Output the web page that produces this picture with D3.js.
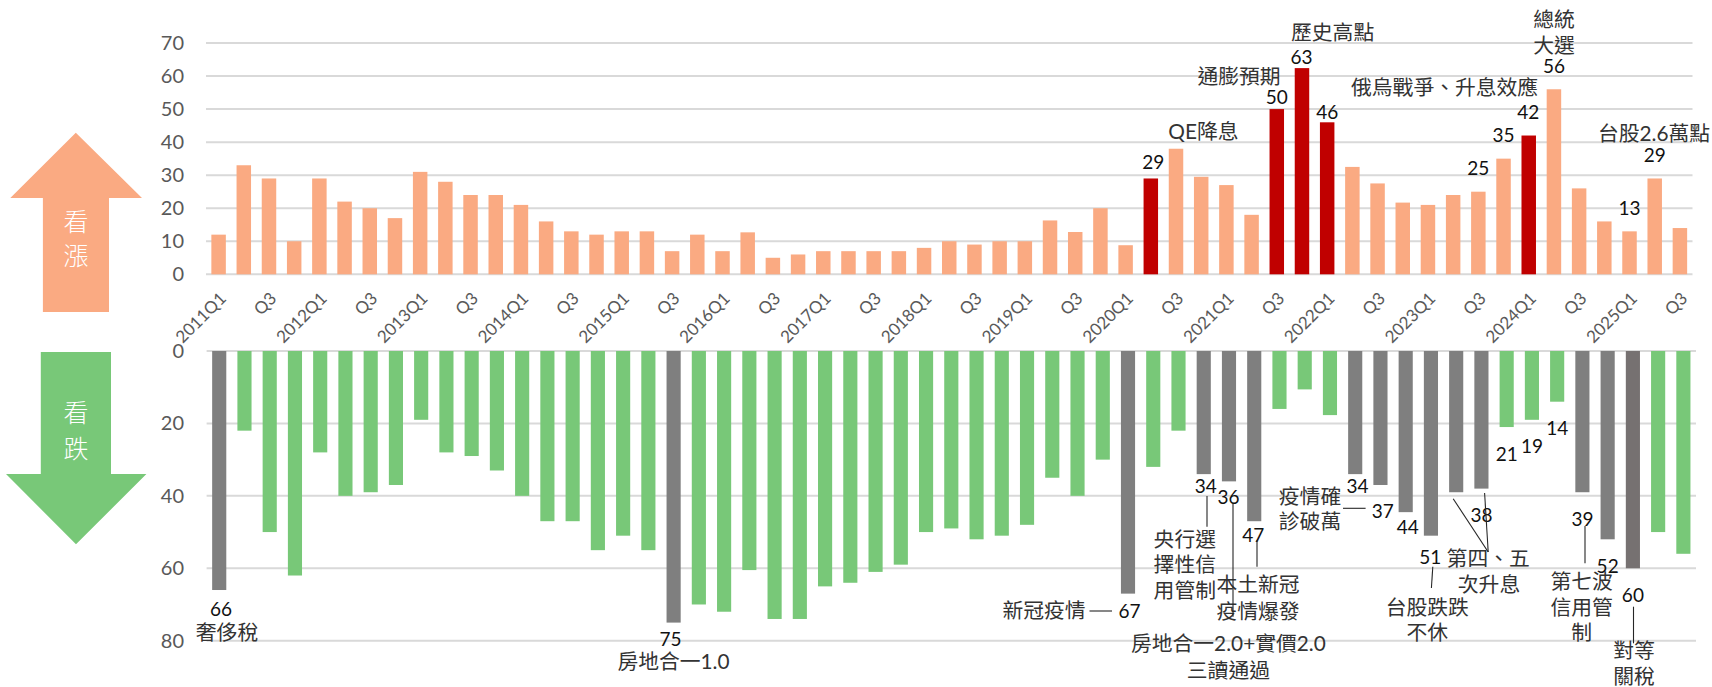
<!DOCTYPE html>
<html><head><meta charset="utf-8">
<script src="https://cdn.jsdelivr.net/npm/d3@7/dist/d3.min.js"></script>
<style>
html,body{margin:0;padding:0;background:#fff}
svg{display:block}
text{font-family:Lato,"Noto Sans CJK TC",sans-serif}
</style></head><body>
<svg id="c" width="1712" height="687"></svg>
<script>
const categories=["2011Q1","2011Q2","2011Q3","2011Q4","2012Q1","2012Q2","2012Q3","2012Q4","2013Q1","2013Q2","2013Q3","2013Q4","2014Q1","2014Q2","2014Q3","2014Q4","2015Q1","2015Q2","2015Q3","2015Q4","2016Q1","2016Q2","2016Q3","2016Q4","2017Q1","2017Q2","2017Q3","2017Q4","2018Q1","2018Q2","2018Q3","2018Q4","2019Q1","2019Q2","2019Q3","2019Q4","2020Q1","2020Q2","2020Q3","2020Q4","2021Q1","2021Q2","2021Q3","2021Q4","2022Q1","2022Q2","2022Q3","2022Q4","2023Q1","2023Q2","2023Q3","2023Q4","2024Q1","2024Q2","2024Q3","2024Q4","2025Q1","2025Q2","2025Q3"];
const bullish=[12,33,29,10,29,22,20,17,31,28,24,24,21,16,13,12,13,13,7,12,7,12.7,5,6,7,7,7,7,8,10,9,10,10,16.3,12.8,20,8.8,29,38,29.5,27,18,50,62.4,46,32.5,27.5,21.7,21,24,25,35,42,56,26,16,13,29,14];
const bearish=[66,22,50,62,28,40,39,37,19,28,29,33,40,47,47,55,51,55,75,70,72,60.5,74,74,65,64,61,59,50,49,52,51,48,35,40,30,67,32,22,34,36,47,16,10.6,17.7,34,37,44.5,51,39,38,21,19,14,39,52,60,50,56];
const bullishHighlight=[37,42,43,44,52];
const bearishHighlight=[0,18,36,39,40,41,45,46,47,48,49,50,54,55];
const bearishDark=[56];
const topTicks=[0,10,20,30,40,50,60,70];
const bottomTicks=[0,20,40,60,80];
const axisLabels=["2011Q1","Q3","2012Q1","Q3","2013Q1","Q3","2014Q1","Q3","2015Q1","Q3","2016Q1","Q3","2017Q1","Q3","2018Q1","Q3","2019Q1","Q3","2020Q1","Q3","2021Q1","Q3","2022Q1","Q3","2023Q1","Q3","2024Q1","Q3","2025Q1","Q3"];
const topValueLabels=[[37,"29"],[42,"50"],[43,"63"],[44,"46"],[50,"25"],[51,"35"],[52,"42"],[53,"56"],[56,"13"],[57,"29"]];
const bottomValueLabels=[[0,"66"],[18,"75"],[36,"67"],[39,"34"],[40,"36"],[41,"47"],[45,"34"],[46,"37"],[47,"44"],[48,"51"],[50,"38"],[51,"21"],[52,"19"],[53,"14"],[54,"39"],[55,"52"],[56,"60"]];
const noteTexts=["QE降息","通膨預期","歷史高點","俄烏戰爭、升息效應","總統","大選","台股2.6萬點","奢侈稅","房地合一1.0","新冠疫情","央行選","擇性信","用管制","本土新冠","疫情爆發","房地合一2.0+實價2.0","三讀通過","疫情確","診破萬","台股跌跌","不休","第四、五","次升息","第七波","信用管","制","對等","關稅"];

// layout (kept apart from the data)
const topOffsets=[[2.5,-17],[0,-12.4],[-.4,-11.4],[0,-10.6],[0,-24.4],[0,-24],[-.4,-23.8],[0,-24],[0,-24],[0,-24.2]];
const bottomOffsets=[[1.8,18.7],[-3,16],[1.6,16.8],[2,11.3],[-.4,15.4],[-1,13.3],[2.4,11.3],[2.2,25.7],[2,14.3],[-.7,20.7],[0,25.4],[0,26.3],[0,25.5],[0,25.6],[0,26],[0,26.5],[0,26.3]];
const notePos=[[1203.4,130],[1239,75],[1332.6,31],[1444.6,86.7],[1554,18],[1554,44.3],[1654,132.7],[227,631.7],[673.5,660],[1044,609],[1184.8,538],[1184.8,563.7],[1184.8,589.3],[1258,583.7],[1258,610],[1228.4,642.7],[1228.4,669],[1310,495],[1310,520.3],[1427.3,606],[1427.3,631.7],[1488.2,557.7],[1489,583],[1581.7,580.7],[1581.7,606.7],[1581.7,631.7],[1634,649.7],[1634,675]];
const leaders=[[1089.5,611,1112,611],[1207,496,1207,526.7],[1233,503.3,1233,616.7],[1257,540,1257,566.7],[1343,508.3,1365.6,508.3],[1432.8,566.7,1431.4,588],[1453.2,498.7,1488.2,552],[1484.6,493,1488.2,552],[1585,526,1585,563.3],[1633.5,606.7,1633.5,643.3]];
const C={up:"#FAAA82",red:"#C00000",down:"#78C878",gray:"#7F7F7F",dark:"#767171",grid:"#D9D9D9",tick:"#595959",note:"#333333"};

const svg=d3.select("#c");
const xTop=d3.scaleBand().domain(d3.range(categories.length)).range([206,1692.5]).paddingInner(.425).paddingOuter(.2125);
const xBot=d3.scaleBand().domain(d3.range(categories.length)).range([206.6,1696]).paddingInner(.44).paddingOuter(.22);
const yTop=d3.scaleLinear().domain([0,70]).range([274.3,43]);
const yBot=d3.scaleLinear().domain([0,80]).range([351,640.7]);

function grid(ticks,y,x0,x1){
  svg.append("g").selectAll("line").data(ticks).join("line")
    .attr("x1",x0).attr("x2",x1).attr("y1",d=>y(d)).attr("y2",d=>y(d))
    .attr("stroke",C.grid).attr("stroke-width",2);
}
grid(topTicks,yTop,206,1692.5);
grid(bottomTicks,yBot,206.6,1696);

function yAxis(y,ticks){
  const g=svg.append("g").attr("transform","translate(184,0)")
    .call(d3.axisLeft(y).tickValues(ticks).tickSize(0).tickPadding(0));
  g.select(".domain").remove();
  g.selectAll("text").attr("font-size",20).attr("fill",C.tick).attr("font-family",'Lato,sans-serif');
}
yAxis(yTop,topTicks); yAxis(yBot,bottomTicks);

svg.append("g").selectAll("rect").data(bullish).join("rect")
  .attr("x",(d,i)=>xTop(i)).attr("width",xTop.bandwidth())
  .attr("y",d=>yTop(d)).attr("height",d=>yTop(0)-yTop(d))
  .attr("fill",(d,i)=>bullishHighlight.includes(i)?C.red:C.up);
svg.append("g").selectAll("rect").data(bearish).join("rect")
  .attr("x",(d,i)=>xBot(i)).attr("width",xBot.bandwidth())
  .attr("y",yBot(0)).attr("height",d=>yBot(d)-yBot(0))
  .attr("fill",(d,i)=>bearishDark.includes(i)?C.dark:bearishHighlight.includes(i)?C.gray:C.down);

// category axis between the two panels
const labelIdx=axisLabels.map((d,i)=>i*2);
const xAxis=svg.append("g").attr("transform","translate(0,295)")
  .call(d3.axisBottom(xTop).tickValues(labelIdx).tickSize(0).tickFormat((d,i)=>axisLabels[i]));
xAxis.select(".domain").remove();
xAxis.selectAll("text").attr("font-size",17).attr("fill",C.tick)
  .attr("text-anchor","end").attr("dy",0).attr("y",0).attr("x",0)
  .attr("dominant-baseline","central")
  .attr("transform","translate(4,0) rotate(-45)");

function valueLabels(list,off,x,val){
  svg.append("g").selectAll("text").data(list).join("text")
    .attr("x",(d,k)=>x(d[0])+x.bandwidth()/2+off[k][0])
    .attr("y",(d,k)=>val(d[0])+off[k][1])
    .attr("text-anchor","middle").attr("dominant-baseline","central")
    .attr("font-size",19).attr("fill","#111").text(d=>d[1]);
}
valueLabels(topValueLabels,topOffsets,xTop,i=>yTop(bullish[i]));
valueLabels(bottomValueLabels,bottomOffsets,xBot,i=>yBot(bearish[i]));

svg.append("g").selectAll("text").data(noteTexts).join("text")
  .attr("x",(d,i)=>notePos[i][0]).attr("y",(d,i)=>notePos[i][1])
  .attr("text-anchor","middle").attr("dominant-baseline","central")
  .attr("font-size",20.8).attr("fill",C.note).text(d=>d);

svg.append("g").selectAll("line").data(leaders).join("line")
  .attr("x1",d=>d[0]).attr("y1",d=>d[1]).attr("x2",d=>d[2]).attr("y2",d=>d[3])
  .attr("stroke","#262626").attr("stroke-width",1.1);

// side arrows
svg.append("path").attr("d","M75.8,132.7L142,198H109V312H42.9V198H10.3Z").attr("fill",C.up);
svg.append("path").attr("d","M40.8,352H111V474H146.4L76,544.3L6,474H40.8Z").attr("fill",C.down);
[["看",76,220.7],["漲",76,255],["看",76,412],["跌",76,448]].forEach(t=>{
  svg.append("text").attr("x",t[1]).attr("y",t[2]).attr("text-anchor","middle").attr("dominant-baseline","central")
    .attr("font-size",25).attr("font-weight",300).attr("fill","#fff").text(t[0]);
});
</script></body></html>
